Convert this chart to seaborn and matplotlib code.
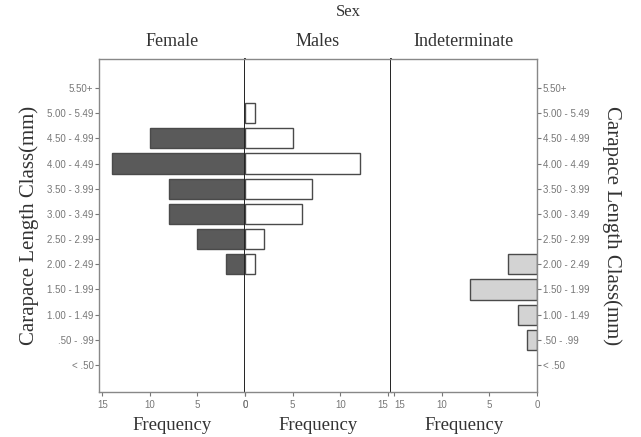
import matplotlib
matplotlib.use("Agg")
import matplotlib.pyplot as plt
import seaborn as sns
import pandas as pd
import numpy as np

categories = ["5.50+", "5.00 - 5.49", "4.50 - 4.99", "4.00 - 4.49", "3.50 - 3.99",
              "3.00 - 3.49", "2.50 - 2.99", "2.00 - 2.49", "1.50 - 1.99",
              "1.00 - 1.49", ".50 - .99", "< .50"]
female = [0, 0, 10, 14, 8, 8, 5, 2, 0, 0, 0, 0]
males = [0, 1, 5, 12, 7, 6, 2, 1, 0, 0, 0, 0]
indeterminate = [0, 0, 0, 0, 0, 0, 0, 3, 7, 2, 1, 0]
freq_ticks = [0, 5, 10, 15]
panel_titles = ["Female", "Males", "Indeterminate"]

sns.set_style("white")
serif = "Liberation Serif"
sans = "Liberation Sans"

fig = plt.figure(figsize=(6.41, 4.37), dpi=100)
left, right = 99 / 641, 537 / 641
bottom, top = 1 - 392 / 437, 1 - 59 / 437
w = (right - left) / 3
axes = [fig.add_axes([left + i * w, bottom, w, top - bottom]) for i in range(3)]

series = [female, males, indeterminate]
colors = ["#5a5a5a", "#ffffff", "#d3d3d3"]
n = len(categories)
for i, (ax, vals, col) in enumerate(zip(axes, series, colors)):
    df = pd.DataFrame({"cls": categories, "freq": vals})
    sns.barplot(data=df, y="cls", x="freq", orient="h", ax=ax, color=col,
                edgecolor="#4a4a4a", linewidth=1.0, width=0.8, saturation=1)
    for p in ax.patches:
        if p.get_width() == 0:
            p.set_visible(False)
    ax.set_ylim(n - 1 + 1.07, -1.15)
    if i == 1:
        ax.set_xlim(0, 15.3)
    else:
        ax.set_xlim(15.35, 0)
    ax.set_xticks(freq_ticks)
    ax.set_xticklabels([str(t) for t in freq_ticks], fontsize=7, color="#777777",
                       family=sans)
    ax.tick_params(axis="x", direction="out", length=3, width=0.8, color="#777777",
                   pad=3, bottom=True)
    ax.set_xlabel("Frequency", family=serif, fontsize=13.5, color="#333333", labelpad=5)
    ax.set_ylabel("")
    for s in ax.spines.values():
        s.set_color("#888888")
        s.set_linewidth(1.0)
    ax.set_title(panel_titles[i], family=serif, fontsize=13, color="#333333", pad=9)
    ax.grid(False)

# avoid the two "15" labels colliding at the shared edge
axes[1].get_xticklabels()[-1].set_ha("right")
axes[2].get_xticklabels()[-1].set_ha("left")

# inner dividers
axes[0].spines["right"].set_color("#222222")
axes[0].spines["right"].set_linewidth(1.4)
axes[1].spines["left"].set_visible(False)
axes[1].spines["right"].set_color("#222222")
axes[1].spines["right"].set_linewidth(1.4)
axes[2].spines["left"].set_visible(False)

# y ticks
axes[0].set_yticks(range(n))
axes[0].set_yticklabels(categories, fontsize=7, color="#777777", family=sans)
axes[0].tick_params(axis="y", direction="out", length=3, width=0.8, color="#777777",
                    pad=1, left=True)
axes[0].set_ylabel("Carapace Length Class(mm)", family=serif, fontsize=15,
                   color="#333333", labelpad=6)
axes[1].set_yticks([])
axes[2].set_yticks(range(n))
axes[2].yaxis.tick_right()
axes[2].set_yticklabels(categories, fontsize=7, color="#777777", family=sans)
axes[2].tick_params(axis="y", direction="out", length=3, width=0.8, color="#777777",
                    pad=1, right=True, left=False)
axes[2].yaxis.set_label_position("right")
axes[2].set_ylabel("Carapace Length Class(mm)", family=serif, fontsize=15,
                   color="#333333", labelpad=9, rotation=-90, va="bottom")

fig.text(348 / 641, 1 - 12 / 437, "Sex", family=serif, fontsize=12,
         color="#333333", ha="center", va="center")

fig.savefig("out.png", dpi=100)
